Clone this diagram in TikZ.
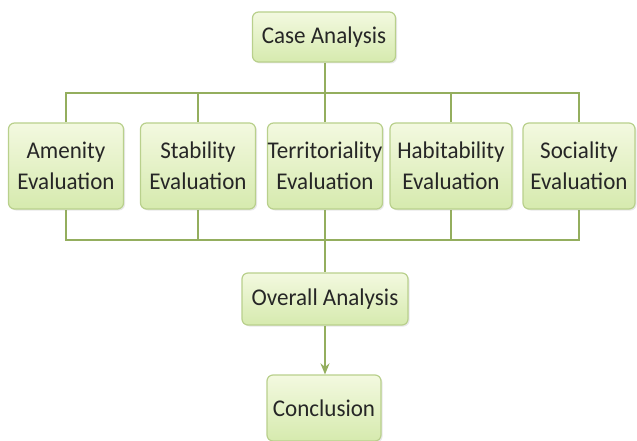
\documentclass[tikz,border=0pt]{standalone}
\usepackage{fontspec}
\setmainfont[FakeStretch=0.96]{Carlito}
\usepackage{tikz}
\usetikzlibrary{arrows.meta, calc, positioning, shadows, backgrounds}
\definecolor{busgreen}{HTML}{94AE5E}
\definecolor{boxedge}{HTML}{B9D08C}
\definecolor{boxtop}{HTML}{F3F9E0}
\definecolor{boxbot}{HTML}{D6EAAE}
\definecolor{txtgray}{HTML}{262626}

\tikzset{
  evalbox/.style={draw=boxedge, line width=1.2pt, rounded corners=6pt,
    top color=boxtop, bottom color=boxbot, text=txtgray,
    font=\fontsize{24}{31}\selectfont, align=center, inner sep=0pt,
    drop shadow={opacity=0.18, shadow xshift=1.5pt, shadow yshift=-1.5pt}},
  bus/.style={draw=busgreen, line width=2.8pt}
}

\begin{document}
\begin{tikzpicture}[x=1pt, y=-1pt, >={Stealth[length=11pt, width=9pt]}]
\useasboundingbox (0,0) rectangle (637,441);

\node[evalbox, minimum width=143pt, minimum height=50pt] (case) at (324,37) {Case Analysis};

\node[evalbox, minimum width=115pt, minimum height=86pt] (amen) at (66,166) {Amenity\\Evaluation};
\node[evalbox, minimum width=115pt, minimum height=86pt] (stab) at (198,166) {Stability\\Evaluation};
\node[evalbox, minimum width=115pt, minimum height=86pt] (terr) at (325,166) {Territoriality\\Evaluation};
\node[evalbox, minimum width=122pt, minimum height=86pt] (hab) at (451,166) {Habitability\\Evaluation};
\node[evalbox, minimum width=112pt, minimum height=86pt] (soc) at (579,166) {Sociality\\Evaluation};

\node[evalbox, minimum width=166pt, minimum height=52pt] (overall) at (325,299) {Overall Analysis};
\node[evalbox, minimum width=114pt, minimum height=66pt] (concl) at (324,408) {Conclusion};

\coordinate (top) at (325,93);
\coordinate (bot) at (325,240);

% bus lines behind the boxes
\begin{scope}[on background layer]
\draw[bus] (case.south -| top) -- (top);
\draw[bus] (amen.north) |- (top) -| (soc.north);
\foreach \n in {stab, terr, hab}
  \draw[bus] (\n.north) -- (\n.north |- top);
\draw[bus] (amen.south) |- (bot) -| (soc.south);
\foreach \n in {stab, hab}
  \draw[bus] (\n.south) -- (\n.south |- bot);
\draw[bus] (terr.south) -- (bot) -- (overall.north);
\end{scope}

\draw[bus, ->, line width=2.2pt] (overall.south) -- (overall.south |- concl.north);
\end{tikzpicture}
\end{document}
